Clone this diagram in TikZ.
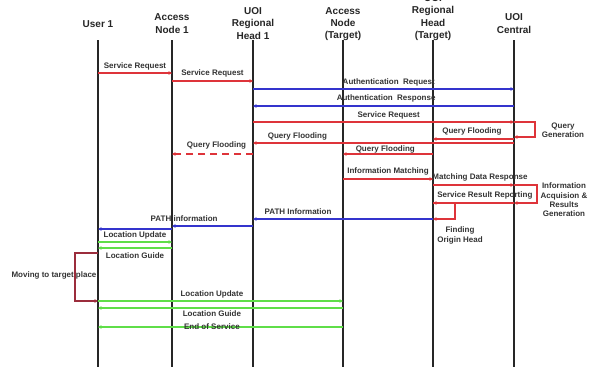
\documentclass[tikz,border=0pt]{standalone}
\usepackage{fontspec}
\setmainfont{Liberation Sans}
\usetikzlibrary{arrows.meta}
\definecolor{msgred}{RGB}{222,52,58}
\definecolor{msgblue}{RGB}{52,52,205}
\definecolor{msggreen}{RGB}{95,222,72}
\definecolor{brkred}{RGB}{155,45,60}
\begin{document}
\begin{tikzpicture}[x=1pt,y=-1pt,
    head/.style={font=\fontsize{10}{12.3}\selectfont\bfseries, text=black!85, align=center, inner sep=0pt},
    lbl/.style={font=\fontsize{8}{9.4}\selectfont\bfseries, text=black!80, align=center, inner sep=0.5pt},
    life/.style={line width=1.6pt, black!85},
    tip/.style={-{Stealth[length=3.5pt,width=3.5pt]}},
    req/.style={msgred, line width=1.2pt},
    auth/.style={msgblue, line width=1.1pt},
    loc/.style={msggreen, line width=1.3pt}]
  \useasboundingbox (0,0) rectangle (591,367);
    \node[head] (U1) at (98,24) {User 1};
    \node[head] (N1) at (172,23.5) {Access\\Node 1};
    \node[head] (H1) at (253,23.5) {UOI\\Regional\\Head 1};
    \node[head] (NT) at (343,24) {Access\\Node\\(Target)};
    \node[head] (HT) at (433,17.5) {UOI\\Regional\\Head\\(Target)};
    \node[head] (C) at (514,23.5) {UOI\\Central};
    \foreach \n in {U1,N1,H1,NT,HT,C}
      \draw[life] (\n |- 0,40) -- (\n |- 0,367);
    \draw[req,tip] (U1 |- 0,73) -- node[lbl,above=1.5pt] {Service Request} (N1 |- 0,73);
    \draw[req,tip] (N1 |- 0,81) -- node[lbl,above=3pt] {Service Request} (H1 |- 0,81);
    \draw[auth,tip] (H1 |- 0,89) -- node[lbl,above=2pt,pos=0.52] {Authentication~~Request} (C |- 0,89);
    \draw[auth,tip] (C |- 0,106) -- node[lbl,above=3pt,pos=0.49] {Authentication~~Response} (H1 |- 0,106);
    \draw[req,tip] (H1 |- 0,122) -- node[lbl,above=1.5pt,pos=0.52] {Service Request} (C |- 0,122);
    \draw[req,tip] (C |- 0,122) -- (535,122) -- (535,137) -- (C |- 0,137);
    \node[lbl] (qgen) at (563,130.5) {Query\\Generation};
    \draw[req,tip] (C |- 0,139) -- node[lbl,above=3pt,pos=0.52] {Query Flooding} (HT |- 0,139);
    \draw[req,tip] (C |- 0,143) -- node[lbl,above=1.5pt,pos=0.83] {Query Flooding} (H1 |- 0,143);
    \draw[req,tip,line width=1.8pt,dash pattern=on 7pt off 5pt] (H1 |- 0,154) -- node[lbl,above=3pt,pos=0.45] {Query Flooding} (N1 |- 0,154);
    \draw[req,tip] (HT |- 0,154) -- node[lbl,above=0pt,pos=0.53] {Query Flooding} (NT |- 0,154);
    \draw[req,tip] (NT |- 0,179) -- node[lbl,above=3pt] {Information Matching} (HT |- 0,179);
    \draw[req,tip] (HT |- 0,185) -- node[lbl,above=3pt,pos=0.58] {Matching Data Response} (C |- 0,185);
    \draw[req,tip] (C |- 0,185) -- (537,185) -- (537,203) -- (C |- 0,203);
    \node[lbl] (iarg) at (564,200) {Information\\Acquision \&\\Results\\Generation};
    \draw[req,tip] (C |- 0,203) -- node[lbl,above=3pt,pos=0.36] {Service Result Reporting} (HT |- 0,203);
    \draw[req,tip] (HT |- 0,203) -- (455,203) -- (455,219) -- (HT |- 0,219);
    \node[lbl] (foh) at (460,235.5) {Finding\\Origin Head};
    \draw[auth,tip] (HT |- 0,219) -- node[lbl,above=3.5pt,pos=0.75] {PATH Information} (H1 |- 0,219);
    \draw[auth,tip] (H1 |- 0,226) -- node[lbl,above=3.5pt,pos=0.85] {PATH information} (N1 |- 0,226);
    \draw[auth,tip] (N1 |- 0,229) -- (U1 |- 0,229);
    \draw[loc,tip] (U1 |- 0,242) -- node[lbl,above=2pt] {Location Update} (N1 |- 0,242);
    \draw[loc,tip] (N1 |- 0,248) -- node[lbl,below=4pt] {Location Guide} (U1 |- 0,248);
    \draw[brkred,line width=1.1pt,tip] (U1 |- 0,253) -- (75,253) -- (75,301) -- (U1 |- 0,301);
    \node[lbl] (move) at (54,275) {Moving to target place};
    \draw[loc,tip] (U1 |- 0,301) -- node[lbl,above=1.5pt,pos=0.465] {Location Update} (NT |- 0,301);
    \draw[loc,tip] (NT |- 0,308) -- node[lbl,below=1.5pt,pos=0.535] {Location Guide} (U1 |- 0,308);
    \draw[loc,tip] (NT |- 0,327) -- node[lbl,pos=0.535] {End of Service} (U1 |- 0,327);
  \end{tikzpicture}
\end{document}
